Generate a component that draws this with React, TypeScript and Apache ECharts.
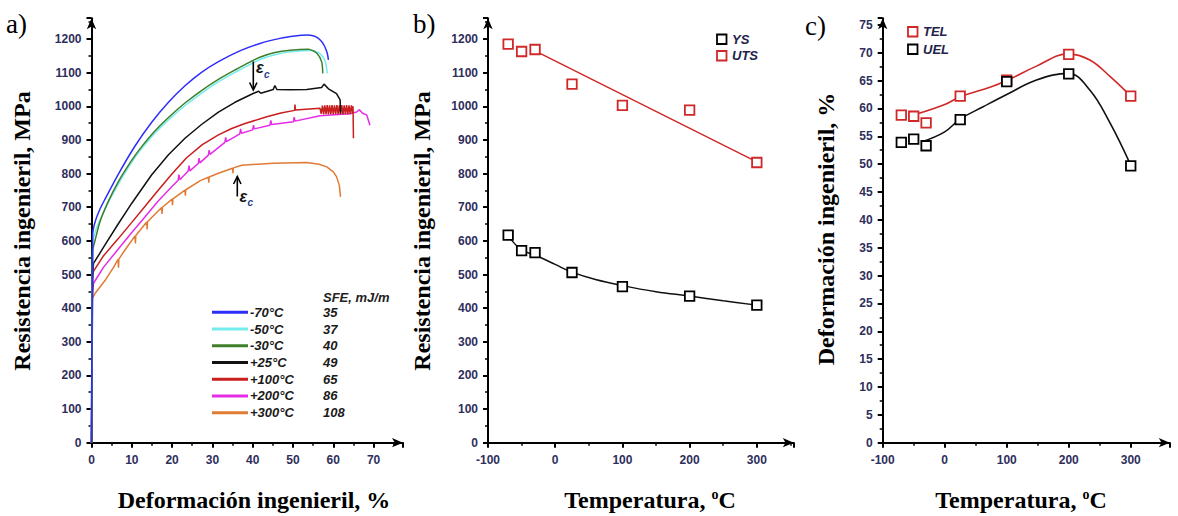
import React, { useEffect, useRef } from 'react';
import * as echarts from 'echarts';

// ---------- Panel a: engineering stress-strain curves [strain %, stress MPa] ----------
const curveM70: number[][] = [[0,0],[0.3,620],[0.9,657],[2,692],[3.35,724],[6.6,797],[10.8,882],[14.9,952],[19.1,1012],[23.2,1061],[27.3,1101],[31.5,1133],[36.8,1165],[41.8,1187],[46.8,1202],[50.5,1209],[53.4,1212],[55.2,1209],[56.3,1202],[57.3,1190],[57.9,1177],[58.5,1158],[58.8,1138]];
const curveM50: number[][] = [[0,0],[0.3,590],[1.0,630],[2.5,672],[4.5,722],[6.8,772],[10.2,838],[12.5,875],[15.7,920],[19.3,962],[23.4,1004],[27.5,1041],[31.7,1074],[35.8,1102],[38.3,1118],[42,1140],[45.7,1154],[49.5,1162],[54.6,1166],[56.8,1155],[58,1133],[58.5,1098]];
const curveM30: number[][] = [[0,0],[0.3,570],[0.9,602],[2.1,657],[4.2,718],[6.6,775],[10,840],[12.3,878],[15.5,924],[19.1,967],[23.2,1010],[27.3,1047],[31.5,1080],[35.6,1108],[38.1,1124],[41.8,1146],[45.5,1160],[49.3,1167],[53.8,1170],[55.9,1158],[57.1,1133],[57.4,1098]];
const curveP25: number[][] = [[0,0],[0.3,500],[0.5,533],[3.35,588],[6.5,648],[10,712],[14.9,796],[19.1,856],[23.2,905],[27.3,946],[31.5,983],[35.6,1012],[40.1,1038],[41.5,1045],[42,1039],[45.1,1050],[45.5,1062],[46,1050],[49.3,1049],[53.4,1050],[57.1,1056],[57.7,1066],[58.8,1052],[60.8,1038],[61.7,1019],[61.8,979]];
const curveP100: number[][] = [[0,0],[0.2,480],[0.4,508],[3,556],[6.6,606],[10,655],[13.3,703],[16.5,750],[19.9,798],[23.6,847],[27.5,886],[31.5,915],[34.8,934],[38.1,949],[43.5,969],[47,980],[50.4,988],[50.5,1005],[50.6,989],[56.7,994],[57.0,978],[57.3,1002],[57.6,976],[57.9,1003],[58.2,977],[58.5,1004],[58.8,976],[59.1,1003],[59.4,977],[59.7,1004],[60.0,976],[60.3,1003],[60.6,977],[60.9,1004],[61.2,976],[61.5,1003],[61.8,977],[62.1,1004],[62.4,976],[62.7,1003],[63.0,977],[63.3,1004],[63.6,976],[63.9,1003],[64.2,977],[64.5,1003],[64.8,978],[64.9,1000],[65,905]];
const curveP200: number[][] = [[0,0],[0.2,440],[0.5,474],[3,522],[6.6,575],[10,625],[13.3,672],[16.5,718],[19.9,761],[21.5,780],[21.7,797],[21.9,782],[24,808],[24.2,824],[24.4,808],[26.5,830],[26.7,846],[26.9,832],[29,855],[29.2,870],[29.4,857],[33.1,893],[33.3,908],[33.5,895],[36.8,918],[37,933],[37.2,920],[40,930],[40.2,944],[40.4,933],[44.3,944],[44.5,958],[44.7,946],[50.1,954],[50.3,968],[50.5,956],[56.7,972],[64.1,978],[65.8,983],[66.5,990],[67.2,980],[68.3,974],[69.1,944]];
const curveP300: number[][] = [[0,0],[0.2,430],[1,446],[3.35,482],[5.5,522],[6.6,545],[6.7,520],[6.8,546],[8.3,573],[10.8,615],[10.9,592],[11,616],[13.7,656],[13.8,634],[13.9,657],[17.4,699],[17.5,680],[17.6,700],[20,724],[20.1,706],[20.2,725],[23.2,751],[23.3,734],[23.4,752],[27,779],[29,789],[29.1,773],[29.2,790],[31.5,801],[35,816],[35.1,801],[35.2,817],[37.3,825],[45.1,831],[53.4,833],[56.5,828],[58.4,820],[60,805],[60.8,791],[61.5,765],[61.8,731]];

const legendLabels = ['-70°C', '-50°C', '-30°C', '+25°C', '+100°C', '+200°C', '+300°C'];
const sfeValues = ['35', '37', '40', '49', '65', '86', '108'];

// ---------- Panel b / c: properties vs temperature ----------
const tempC = [-70, -50, -30, 25, 100, 200, 300];
const utsMPa = [1185, 1163, 1169, 1066, 1003, 989, 833];
const ysMPa = [617, 571, 565, 506, 464, 436, 409];
const utsFitT = [-30, 300];
const utsFitV = [1165, 835];
const ysFitT = [-70, -50, -30, 0, 25, 60, 100, 150, 200, 250, 300];
const ysFitV = [615, 573, 558, 530, 507, 485, 467, 449, 436, 422, 409];

const telPct = [58.8, 58.6, 57.4, 62.2, 65.1, 69.7, 62.2];
const uelPct = [53.9, 54.5, 53.3, 58.0, 64.8, 66.2, 49.7];
const telFitT = [-45, 0, 25, 73, 102, 148, 199, 234, 267, 300];
const telFitV = [59.0, 60.7, 62.1, 63.8, 65.1, 67.6, 69.8, 68.7, 65.7, 62.2];
const uelFitT = [-37, 0, 25, 62, 100, 148, 199, 234, 267, 300];
const uelFitV = [54.0, 55.8, 58.1, 60.3, 62.5, 65.1, 66.3, 63.3, 57.3, 49.8];

const zip = (a: number[], b: number[]) => a.map((v, i) => [v, b[i]]);

const curveColors = ['#2e2efa', '#74ecec', '#3f7f2c', '#111111', '#c81e1e', '#e62ce6', '#e07b35'];
const RED = '#d02828';
const LABEL_COLOR = '#2e2e5c';
const SERIF = '"Liberation Serif", "Times New Roman", serif';
const SANS = '"Liberation Sans", Arial, sans-serif';

function makeAxis(idx: number, min: number, max: number, interval: number, margin: number) {
  return {
    type: 'value',
    gridIndex: idx,
    min,
    max,
    interval,
    axisLine: {
      show: true,
      onZero: false,
      symbol: ['none', 'arrow'],
      symbolSize: [7, 11],
      lineStyle: { color: '#000', width: 2 },
    },
    axisTick: { show: true, inside: false, length: 5, lineStyle: { color: '#000', width: 2 } },
    minorTick: { show: true, splitNumber: 2, length: 3, lineStyle: { color: '#000', width: 1.5 } },
    splitLine: { show: false },
    minorSplitLine: { show: false },
    axisLabel: {
      margin,
      color: LABEL_COLOR,
      fontWeight: 'bold',
      fontSize: 12,
      fontFamily: SANS,
      showMaxLabel: false,
      formatter: (v: number) => {
        const r = v / interval;
        return Math.abs(r - Math.round(r)) < 1e-6 ? String(Math.round(v * 100) / 100) : '';
      },
    },
  };
}

function lineSeries(xi: number, data: number[][], color: string, width: number, smooth: number | boolean, z = 2) {
  return {
    type: 'line',
    xAxisIndex: xi,
    yAxisIndex: xi,
    data,
    showSymbol: false,
    symbol: 'none',
    smooth,
    lineStyle: { color, width },
    z,
  };
}

function markerSeries(xi: number, data: number[][], color: string) {
  return {
    type: 'scatter',
    xAxisIndex: xi,
    yAxisIndex: xi,
    data,
    symbol: 'rect',
    symbolSize: 9.5,
    itemStyle: { color: '#fff', borderColor: color, borderWidth: 1.8, opacity: 1 },
    z: 5,
  };
}

function buildOption() {
  const top = 18.2;
  const height = 424.5;
  const grids = [
    { left: 91.5, top, width: 311.5, height },
    { left: 488, top, width: 305.8, height },
    { left: 882.7, top, width: 287.1, height },
  ];

  const graphics: any[] = [];
  const text = (x: number, y: number, t: string, font: string, fill = '#000', align = 'left') =>
    graphics.push({
      type: 'text',
      x,
      y,
      z: 100,
      style: { text: t, font, fill, align, verticalAlign: 'middle' },
    });

  // panel labels
  text(6, 24, 'a)', `27px ${SERIF}`);
  text(413, 24, 'b)', `27px ${SERIF}`);
  text(805, 26, 'c)', `27px ${SERIF}`);

  // y titles (rotated)
  const yTitle = (x: number, y: number, t: string) =>
    graphics.push({
      type: 'text',
      x,
      y,
      rotation: Math.PI / 2,
      z: 100,
      style: { text: t, font: `bold 24px ${SERIF}`, fill: '#000', align: 'center', verticalAlign: 'middle' },
    });
  yTitle(22, 231, 'Resistencia ingenieril, MPa');
  yTitle(422, 231, 'Resistencia ingenieril, MPa');
  yTitle(826, 229, 'Deformación ingenieril, %');

  // x titles
  text(254, 500, 'Deformación ingenieril, %', `bold 24px ${SERIF}`, '#000', 'center');
  const tempTitle = (x: number) =>
    graphics.push({
      type: 'text',
      x,
      y: 500,
      z: 100,
      style: {
        text: '{n|Temperatura, }{s|o}{n|C}',
        align: 'center',
        verticalAlign: 'middle',
        rich: {
          n: { fontFamily: SERIF, fontWeight: 'bold', fontSize: 24, lineHeight: 26, color: '#000' },
          s: { fontFamily: SERIF, fontWeight: 'bold', fontSize: 14, lineHeight: 26, verticalAlign: 'top', color: '#000' },
        },
      },
    });
  tempTitle(650);
  tempTitle(1021);

  // panel a legend
  text(323, 297.5, 'SFE, mJ/m', `bold italic 13px ${SANS}`, '#222');
  const ly0 = 312.3;
  const lstep = 16.73;
  legendLabels.forEach((lab, i) => {
    const y = ly0 + i * lstep;
    graphics.push({
      type: 'line',
      z: 100,
      shape: { x1: 212, y1: y, x2: 248, y2: y },
      style: { stroke: curveColors[i], lineWidth: 3 },
    });
    text(250, y, lab, `bold italic 13px ${SANS}`, '#1a1a1a');
    text(323, y, sfeValues[i], `bold italic 13px ${SANS}`, '#1a1a1a');
  });

  // epsilon_c annotations
  graphics.push({ type: 'line', z: 100, shape: { x1: 253.3, y1: 61.5, x2: 253.3, y2: 89 }, style: { stroke: '#000', lineWidth: 1.6 } });
  graphics.push({ type: 'polyline', z: 100, shape: { points: [[249.6, 82.5], [253.3, 90], [257, 82.5]] }, style: { stroke: '#000', lineWidth: 1.6, fill: 'none' } });
  text(256, 67.5, 'ε', `bold italic 16px ${SANS}`, '#111');
  text(264, 74, 'c', `bold italic 10px ${SANS}`, '#1e3c8c');

  graphics.push({ type: 'line', z: 100, shape: { x1: 237.3, y1: 176.5, x2: 237.3, y2: 196.5 }, style: { stroke: '#000', lineWidth: 1.6 } });
  graphics.push({ type: 'polyline', z: 100, shape: { points: [[233.6, 184], [237.3, 176.5], [241, 184]] }, style: { stroke: '#000', lineWidth: 1.6, fill: 'none' } });
  text(239.5, 196, 'ε', `bold italic 16px ${SANS}`, '#111');
  text(247.5, 202, 'c', `bold italic 10px ${SANS}`, '#1e3c8c');

  // panel b legend
  graphics.push({ type: 'rect', z: 100, shape: { x: 717, y: 34.5, width: 9.5, height: 9.5 }, style: { stroke: '#000', lineWidth: 1.8, fill: '#fff' } });
  text(732, 39.3, 'YS', `bold italic 13px ${SANS}`, '#22224a');
  graphics.push({ type: 'rect', z: 100, shape: { x: 717, y: 51, width: 9.5, height: 9.5 }, style: { stroke: RED, lineWidth: 1.8, fill: '#fff' } });
  text(732, 55.7, 'UTS', `bold italic 13px ${SANS}`, '#22224a');

  // panel c legend
  graphics.push({ type: 'rect', z: 100, shape: { x: 908, y: 27, width: 9.5, height: 9.5 }, style: { stroke: RED, lineWidth: 1.8, fill: '#fff' } });
  text(923, 31.7, 'TEL', `bold italic 13px ${SANS}`, '#22224a');
  graphics.push({ type: 'rect', z: 100, shape: { x: 908, y: 44.5, width: 9.5, height: 9.5 }, style: { stroke: '#000', lineWidth: 1.8, fill: '#fff' } });
  text(923, 49.3, 'UEL', `bold italic 13px ${SANS}`, '#22224a');

  const curves = [curveM70, curveM50, curveM30, curveP25, curveP100, curveP200, curveP300];
  const drawOrder = [6, 5, 4, 3, 1, 2, 0];
  const aSeries = drawOrder.map((i) => lineSeries(0, curves[i], curveColors[i], 1.5, i <= 2 ? 0.25 : false));

  return {
    animation: false,
    backgroundColor: '#ffffff',
    grid: grids.map((g) => ({ ...g, containLabel: false, outerBoundsMode: 'none' })),
    xAxis: [
      makeAxis(0, 0, 77.3, 10, 11),
      makeAxis(1, -100, 355, 100, 11),
      makeAxis(2, -100, 363, 100, 11),
    ],
    yAxis: [
      makeAxis(0, 0, 1262, 100, 10),
      makeAxis(1, 0, 1262, 100, 10),
      makeAxis(2, 0, 76.2, 5, 10),
    ],
    series: [
      ...aSeries,
      lineSeries(1, zip(utsFitT, utsFitV), RED, 1.5, false),
      lineSeries(1, zip(ysFitT, ysFitV), '#111', 1.5, 0.4),
      markerSeries(1, zip(tempC, utsMPa), RED),
      markerSeries(1, zip(tempC, ysMPa), '#000'),
      lineSeries(2, zip(telFitT, telFitV), RED, 1.6, 0.4),
      lineSeries(2, zip(uelFitT, uelFitV), '#111', 1.6, 0.4),
      markerSeries(2, zip(tempC, telPct), RED),
      markerSeries(2, zip(tempC, uelPct), '#000'),
    ],
    graphic: graphics,
  };
}

export default function App() {
  const ref = useRef<HTMLDivElement>(null);
  useEffect(() => {
    document.body.style.margin = '0';
    const chart = echarts.init(ref.current as HTMLDivElement, null, { renderer: 'svg' });
    chart.setOption(buildOption() as any);
    return () => chart.dispose();
  }, []);
  return <div ref={ref} style={{ width: 1178, height: 516, background: '#fff' }} />;
}
